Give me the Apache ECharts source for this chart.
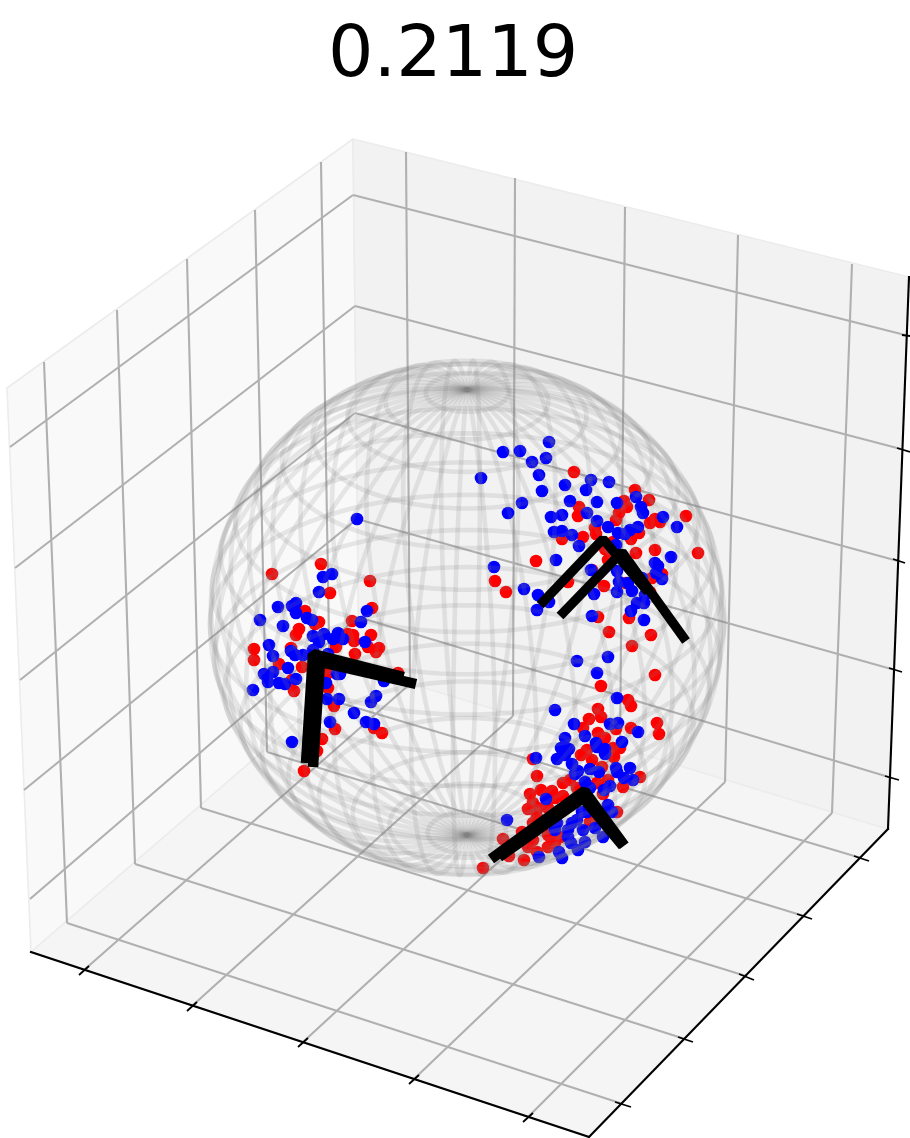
<!DOCTYPE html>
<html><head><meta charset="utf-8">
<style>html,body{margin:0;padding:0;background:#fff}#c{width:910px;height:1138px}</style>
<script src="https://cdn.jsdelivr.net/npm/echarts@6/dist/echarts.min.js"></script>
</head><body><div id="c"></div>
<script>
const titleText = '0.2119';
const leftPane = [7,388, 353,139, 359,668, 31,952];
const rightPane = [353,139, 909,277, 887,829, 359,668];
const floorPane = [31,952, 359,668, 887,829, 589,1137];
const gridSegments = [
  [44,362,67,923],[117,310,135,864],[187,259,201,808],[255,210,267,752],[321,162,330,700],
  [406,152,410,684],[515,178,513,716],[625,207,620,750],[738,235,725,782],[852,264,832,813],
  [10,447,353,195],[15,568,355,306],[20,680,355,413],[24,790,357,519],[30,899,358,617],
  [353,195,905,335],[355,306,901,449],[355,413,898,561],[357,519,895,670],[358,617,892,778],
  [84,970,410,684],[192,1006,513,716],[303,1042,620,750],[414,1079,725,782],[528,1117,832,813],
  [623,1104,67,923],[685,1039,135,864],[746,976,201,808],[804,916,267,752],[861,858,330,700]
];
const axisSegments = [[31,952,589,1137],[589,1137,888,829],[888,829,909,277]];
const tickSegments = [
  [79,975,89,966],[187,1011,197,1002],[298,1047,308,1038],[409,1084,419,1075],[523,1122,533,1113],
  [615,1102,631,1107],[678,1037,693,1042],[739,974,754,980],[797,914,812,919],[854,856,869,861],
  [902,335,910,336],[897,448,910,452],[893,559,905,563],[889,668,902,672],[885,776,899,780]
];
const redPoints = [
 [321,564],[272,574],[370,581],[330,593],[372,608],[305,611],[319,622],[315,624],[352,621],[299,629],[296,635],[371,635],[348,634],[353,635],[354,641],[336,647],[254,649],[254,660],[291,648],[379,648],[368,647],[376,652],[355,654],[279,664],[302,667],[292,680],[294,691],[328,673],[398,673],[328,688],[334,706],[335,729],[374,728],[382,733],[322,739],[317,751],[304,771],
 [574,472],[635,490],[649,500],[624,501],[627,507],[619,513],[616,520],[579,507],[578,516],[686,516],[655,519],[650,523],[660,522],[595,528],[596,534],[583,537],[562,539],[639,533],[631,539],[613,542],[605,549],[655,550],[636,553],[698,553],[536,561],[608,560],[592,570],[662,574],[652,578],[495,581],[506,592],[568,582],[604,586],[626,583],[650,592],[598,617],[629,618],[609,632],[651,635],[632,646],
 [655,675],[601,686],[628,700],[631,706],[598,709],[601,717],[589,719],[583,728],[616,729],[631,728],[657,723],[659,734],[598,733],[605,738],[613,748],[620,748],[587,750],[581,755],[614,757],[592,760],[533,759],[602,767],[537,776],[640,777],[623,787],[563,783],[570,780],[608,780],[597,783],[577,788],[603,794],[541,790],[552,791],[530,794],[563,796],[555,798],[533,803],[528,809],[538,808],[548,808],[537,817],[617,812],[533,823],[522,832],[503,839],[533,840],[548,835],[560,837],[528,847],[548,847],[537,852],[509,856],[524,860],[483,868],[590,822],[555,843]
];
const bluePoints = [
 [357,519],[332,574],[323,577],[319,592],[278,607],[292,606],[296,603],[296,613],[260,620],[283,626],[307,618],[312,620],[367,611],[361,622],[313,636],[324,634],[319,642],[333,639],[338,633],[343,639],[365,642],[269,645],[273,656],[291,651],[295,655],[303,655],[313,650],[328,654],[288,668],[273,672],[264,674],[268,682],[279,683],[285,684],[296,679],[253,690],[340,674],[337,674],[384,681],[326,683],[327,699],[339,699],[376,696],[371,702],[354,713],[366,722],[374,724],[330,722],[292,742],
 [549,442],[503,452],[520,451],[532,462],[546,458],[539,475],[481,478],[542,491],[565,485],[591,480],[609,482],[586,490],[522,503],[508,513],[570,501],[597,502],[617,503],[636,497],[641,507],[643,513],[587,513],[551,517],[562,515],[597,521],[554,532],[562,531],[572,535],[608,527],[618,533],[625,534],[630,530],[638,527],[663,517],[677,527],[579,546],[616,545],[671,557],[556,560],[494,567],[655,563],[658,566],[591,570],[617,571],[656,573],[662,579],[619,582],[642,578],[628,583],[617,592],[632,591],[524,589],[538,595],[549,602],[537,610],[594,594],[645,595],[644,603],[637,603],[631,611],[592,616],[644,620],[608,657],[577,661],
 [597,673],[617,698],[555,710],[574,724],[618,723],[610,724],[638,732],[585,736],[565,738],[622,742],[596,743],[597,747],[605,749],[605,754],[561,748],[569,749],[565,755],[557,759],[536,758],[572,764],[616,768],[630,768],[617,772],[578,771],[590,769],[599,772],[575,774],[624,778],[633,780],[585,782],[590,788],[610,786],[604,790],[546,799],[608,805],[612,812],[582,812],[587,812],[507,820],[577,820],[572,823],[557,823],[555,830],[568,830],[583,830],[595,828],[603,837],[568,837],[571,843],[585,842],[578,850],[559,852],[562,858],[539,857]
];
// Each vector pair: arm end, apex, arm end.
const blackChevronsWide = [
 [306,763,313,654,403.5,677],[313,767,320,662,416,684],
 [491,859,584.5,791,624.4,845.6],[499,857,583,798,623,846]
];
const blackChevronsNarrow = [
 [540,605,603,539,648,592],[560,616,622,552,686,641]
];
// Wireframe: circles of latitude and meridians, degrees, spaced as counted on the picture.
const sphereLatitudes = [-81,-72,-63,-54,-45,-36,-27,-18,-9,0,9,18,27,36,45,54,63,72,81];
const sphereLongitudes = [0,9,18,27,36,45,54,63,72,81,90,99,108,117,126,135,144,153,162,171,180,189,198,207,216,225,234,243,252,261,270,279,288,297,306,315,324,333,342,351];
const sphereCenter = [467,618];
const sphereRadius = 257;

const elev = 30*Math.PI/180, azim = -60*Math.PI/180, persp = 0.05;
const E=[-Math.sin(azim),Math.cos(azim),0],
      U=[-Math.sin(elev)*Math.cos(azim),-Math.sin(elev)*Math.sin(azim),Math.cos(elev)],
      V=[Math.cos(elev)*Math.cos(azim),Math.cos(elev)*Math.sin(azim),Math.sin(elev)];
const dot=(a,b)=>a[0]*b[0]+a[1]*b[1]+a[2]*b[2];
function sph(latDeg,lonDeg){
  const p=latDeg*Math.PI/180,l=lonDeg*Math.PI/180;
  const P=[Math.cos(p)*Math.cos(l),Math.cos(p)*Math.sin(l),Math.sin(p)];
  const s=sphereRadius/(1-persp*dot(P,V));
  return [sphereCenter[0]+s*dot(P,E),sphereCenter[1]-s*dot(P,U)];
}
function polyRender(style){
  return function(params,api){
    const raw=[];
    const len=api.value(0);
    for(let i=0;i<len;i++) raw.push(api.coord([api.value(1+2*i),api.value(2+2*i)]));
    return {type:'polyline',silent:true,shape:{points:raw},style:Object.assign({fill:null},style)};
  };
}
const seg=a=>[a.length/2].concat(a);
function polySeries(name,rows,style,z){
  return {type:'custom',name,coordinateSystem:'cartesian2d',silent:true,animation:false,clip:true,z,
    renderItem:polyRender(style),data:rows.map(seg),encode:{x:1,y:2}};
}
function paneSeries(name,pts,fill,z){
  return {type:'custom',name,coordinateSystem:'cartesian2d',silent:true,animation:false,z,
    renderItem:function(p,api){
      const q=[];for(let i=0;i<8;i+=2)q.push(api.coord([api.value(i),api.value(i+1)]));
      return {type:'polygon',silent:true,shape:{points:q},style:{fill:fill,stroke:'#ececec',lineWidth:1.6,lineJoin:'round'}};
    },data:[pts],encode:{x:0,y:1}};
}
function wireSeries(name,values,kind,z){
  return {type:'custom',name,coordinateSystem:'cartesian2d',silent:true,animation:false,z,
    renderItem:function(p,api){
      const v=api.value(0),q=[];
      if(kind==='lat'){for(let a=0;a<=360;a+=3){q.push(api.coord(sph(v,a)));}}
      else{for(let a=-90;a<=90;a+=3){q.push(api.coord(sph(a,v)));}}
      return {type:'polyline',silent:true,shape:{points:q},style:{fill:null,stroke:'rgba(128,128,128,0.17)',lineWidth:4.6,lineJoin:'round'}};
    },data:values.map(v=>[v]),encode:{x:0}};
}
const chart=echarts.init(document.getElementById('c'),null,{renderer:'canvas'});
chart.setOption({
  animation:false,backgroundColor:'#ffffff',
  title:{text:titleText,left:323,top:16,textStyle:{fontFamily:'DejaVu Sans',fontSize:71.5,fontWeight:'normal',color:'#000'}},
  grid:{left:0,top:0,width:910,height:1138,containLabel:false},
  xAxis:{type:'value',min:0,max:910,show:false},
  yAxis:{type:'value',min:0,max:1138,inverse:true,show:false},
  tooltip:{show:false},
  series:[
    paneSeries('left pane',leftPane,'#f9f9f9',1),
    paneSeries('right pane',rightPane,'#f2f2f2',1),
    paneSeries('floor pane',floorPane,'#f5f5f5',1),
    polySeries('grid',gridSegments,{stroke:'#b0b0b0',lineWidth:2.1,lineCap:'butt'},2),
    polySeries('axes',axisSegments,{stroke:'#000',lineWidth:2.1,lineCap:'square'},3),
    polySeries('ticks',tickSegments,{stroke:'#000',lineWidth:1.8,lineCap:'butt'},3),
    {type:'scatter',name:'red',data:redPoints,symbolSize:12.6,itemStyle:{color:'#ff0000',opacity:1},z:4,silent:true,animation:false},
    {type:'scatter',name:'blue',data:bluePoints,symbolSize:12.6,itemStyle:{color:'#0000ff',opacity:1},z:5,silent:true,animation:false},
    wireSeries('latitudes',sphereLatitudes,'lat',6),
    wireSeries('meridians',sphereLongitudes,'lon',6),
    polySeries('vectors wide',blackChevronsWide,{stroke:'#000',lineWidth:10.5,lineCap:'butt',lineJoin:'bevel'},7),
    polySeries('vectors narrow',blackChevronsNarrow,{stroke:'#000',lineWidth:9.5,lineCap:'butt',lineJoin:'bevel'},7)
  ]
});
</script></body></html>
